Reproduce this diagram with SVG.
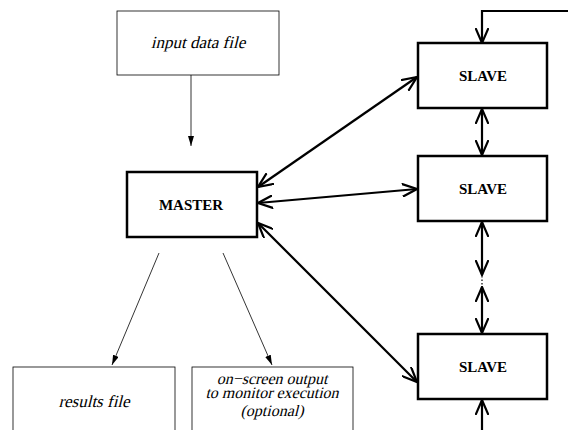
<svg xmlns="http://www.w3.org/2000/svg" width="568" height="430" viewBox="0 0 568 430">
<style>
.thin{fill:#fff;stroke:#000;stroke-width:0.8}
.thick{fill:#fff;stroke:#000;stroke-width:2.5}
.it{font-family:"Liberation Serif","Times New Roman",serif;font-size:17px;text-anchor:middle;fill:#000}
.bd{font-family:"Liberation Serif","Times New Roman",serif;font-weight:bold;font-size:15px;text-anchor:middle;fill:#000}
.sm{font-size:16px}
.c2{fill:none;stroke:#000;stroke-width:2.2}
.c1{fill:none;stroke:#000;stroke-width:0.8}
</style>
<defs>
<marker id="open" viewBox="0 0 16 14" refX="15" refY="7" markerWidth="16" markerHeight="14" markerUnits="userSpaceOnUse" orient="auto-start-reverse">
<path d="M0,0.5 L15,7 L0,13.5" fill="none" stroke="#000" stroke-width="2.2"/>
</marker>
<marker id="fill" viewBox="0 0 10 6" refX="10" refY="3" markerWidth="10" markerHeight="6" markerUnits="userSpaceOnUse" orient="auto">
<path d="M0,0 L10,3 L0,6 Z" fill="#000"/>
</marker>
</defs>
<rect width="568" height="430" fill="#fff"/>
<g id="connectors">
<line class="c1" x1="191" y1="75" x2="191" y2="146" marker-end="url(#fill)"/>
<line class="c1" x1="159" y1="253" x2="112" y2="365" marker-end="url(#fill)"/>
<line class="c1" x1="223" y1="253" x2="272" y2="365" marker-end="url(#fill)"/>
<line class="c2" x1="258" y1="187" x2="417" y2="77" marker-start="url(#open)" marker-end="url(#open)"/>
<line class="c2" x1="258" y1="203" x2="417" y2="189" marker-start="url(#open)" marker-end="url(#open)"/>
<line class="c2" x1="258" y1="223" x2="417" y2="382" marker-start="url(#open)" marker-end="url(#open)"/>
<polyline class="c2" points="568,11 482,11 482,43" marker-end="url(#open)"/>
<line class="c2" x1="482" y1="109" x2="482" y2="155" marker-start="url(#open)" marker-end="url(#open)"/>
<line class="c2" x1="482" y1="222" x2="482" y2="275" marker-start="url(#open)" marker-end="url(#open)"/>
<line x1="482" y1="276" x2="482" y2="288" stroke="#000" stroke-width="1.2" stroke-dasharray="1.5,2"/>
<line class="c2" x1="482" y1="287" x2="482" y2="333" marker-start="url(#open)" marker-end="url(#open)"/>
<line class="c2" x1="482" y1="430" x2="482" y2="400" marker-end="url(#open)"/>
</g>
<g id="input">
<rect class="thin" x="117" y="11" width="162" height="64"/>
<text class="it" transform="translate(198,48) skewX(-14)">input data file</text>
</g>
<g id="master">
<rect class="thick" x="127" y="172" width="130" height="65"/>
<text class="bd" x="191" y="210">MASTER</text>
</g>
<g id="slave1">
<rect class="thick" x="418" y="43" width="129" height="65"/>
<text class="bd" x="483" y="81">SLAVE</text>
</g>
<g id="slave2">
<rect class="thick" x="418" y="156" width="129" height="65"/>
<text class="bd" x="483" y="194">SLAVE</text>
</g>
<g id="slave3">
<rect class="thick" x="418" y="334" width="129" height="65"/>
<text class="bd" x="483" y="372">SLAVE</text>
</g>
<g id="results">
<rect class="thin" x="13" y="367" width="162" height="70"/>
<text class="it" transform="translate(94,407) skewX(-14)">results file</text>
</g>
<g id="onscreen">
<rect class="thin" x="192" y="367" width="161" height="70"/>
<text class="it sm" transform="translate(272,384) skewX(-14)">on−screen output</text>
<text class="it sm" transform="translate(272,398) skewX(-14)">to monitor execution</text>
<text class="it sm" transform="translate(272,416) skewX(-14)">(optional)</text>
</g>
</svg>
